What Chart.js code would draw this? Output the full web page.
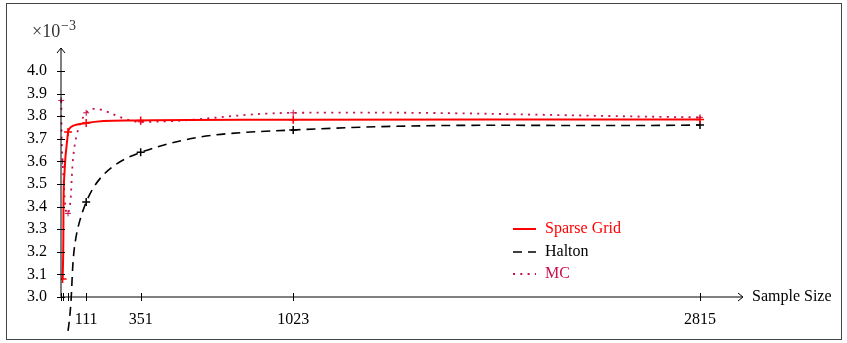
<!DOCTYPE html>
<html>
<head>
<meta charset="utf-8">
<script src="https://cdn.jsdelivr.net/npm/chart.js@4.4.1/dist/chart.umd.min.js"></script>
<style>
	html, body { margin: 0; padding: 0; background: #fff; }
	#caixa { width: 847px; height: 343px; }
</style>
</head>
<body>
<div id="caixa"><canvas id="graficoConvergencia"></canvas></div>
<script>
var sampleSizes = [1, 7, 31, 111, 351, 1023, 2815];
var sparseGrid = [null, 3.08, 3.73, 3.77, 3.781, 3.784, 3.786];
var halton = [null, null, 2.85, 3.42, 3.64, 3.739, 3.761];
var monteCarlo = [3.87, 3.60, 3.37, 3.815, 3.775, 3.815, 3.795];
var xTickLabels = ['', '', '', '111', '351', '1023', '2815'];
var yTicks = [3.0, 3.1, 3.2, 3.3, 3.4, 3.5, 3.6, 3.7, 3.8, 3.9, 4.0];

var FONTE = '"Liberation Serif", "DejaVu Serif", serif';
var corMC = '#c8104c';

function pontos(valores) {
	var lista = [];
	valores.forEach(function(v, i) {
		if (v !== null) lista.push({ x: sampleSizes[i], y: v });
	});
	return lista;
}

// frame, axes with arrows, ticks, exponent and legend
var moldura = {
	id: 'moldura',
	afterDraw: function(chart) {
		var ctx = chart.ctx;
		var area = chart.chartArea;
		var sx = chart.scales.x, sy = chart.scales.y;
		ctx.save();

		ctx.strokeStyle = '#444';
		ctx.lineWidth = 1;
		ctx.strokeRect(6.5, 3.5, 835, 336);

		ctx.strokeStyle = '#000';
		ctx.lineWidth = 1;
		ctx.beginPath();
		ctx.moveTo(area.left, area.bottom); ctx.lineTo(area.left, area.top - 2);
		ctx.moveTo(area.left - 4, area.top + 3); ctx.lineTo(area.left, area.top - 2); ctx.lineTo(area.left + 4, area.top + 3);
		ctx.moveTo(area.left, area.bottom); ctx.lineTo(area.right + 1, area.bottom);
		ctx.moveTo(area.right - 4, area.bottom - 4); ctx.lineTo(area.right + 1, area.bottom); ctx.lineTo(area.right - 4, area.bottom + 4);
		yTicks.forEach(function(v) {
			var py = Math.round(sy.getPixelForValue(v)) + 0.5;
			ctx.moveTo(area.left - 4, py); ctx.lineTo(area.left + 4, py);
		});
		sampleSizes.forEach(function(v) {
			var px = Math.round(sx.getPixelForValue(v)) + 0.5;
			ctx.moveTo(px, area.bottom - 4); ctx.lineTo(px, area.bottom + 4);
		});
		ctx.stroke();

		ctx.fillStyle = '#000';
		ctx.textBaseline = 'middle';
		ctx.textAlign = 'left';
		ctx.font = '16px ' + FONTE;
		ctx.fillText('Sample Size', 752, area.bottom);

		ctx.fillStyle = '#333';
		ctx.textBaseline = 'alphabetic';
		ctx.font = '18px ' + FONTE;
		ctx.fillText('\u00d710', 32, 37);
		ctx.font = '14px ' + FONTE;
		ctx.fillText('\u22123', 61, 30);

		// legend
		var linhaY = [229, 252, 274];
		chart.data.datasets.forEach(function(ds, i) {
			ctx.save();
			ctx.strokeStyle = ds.borderColor;
			ctx.lineWidth = ds.borderWidth;
			ctx.setLineDash(ds.borderDash || []);
			ctx.beginPath();
			ctx.moveTo(513, linhaY[i]);
			ctx.lineTo(536, linhaY[i]);
			ctx.stroke();
			ctx.restore();
			ctx.fillStyle = ds.borderColor;
			ctx.font = '16px ' + FONTE;
			ctx.textBaseline = 'middle';
			ctx.fillText(ds.label, 545, linhaY[i]);
		});
		ctx.restore();
	}
};

var grafico = new Chart(document.getElementById('graficoConvergencia').getContext('2d'), {
	type: 'line',
	data: {
		datasets: [{
			label: 'Sparse Grid',
			data: pontos(sparseGrid),
			borderColor: '#ff0000',
			borderWidth: 2,
			tension: 0.4,
			pointStyle: 'cross',
			pointRadius: 4,
			pointBorderWidth: 1.5,
			pointBorderColor: '#ff0000',
			fill: false
		}, {
			label: 'Halton',
			data: pontos(halton),
			borderColor: '#000000',
			borderWidth: 1.6,
			borderDash: [9, 6],
			tension: 0.4,
			pointStyle: 'cross',
			pointRadius: 4,
			pointBorderWidth: 1.5,
			pointBorderColor: '#000000',
			clip: false,
			fill: false
		}, {
			label: 'MC',
			data: pontos(monteCarlo),
			borderColor: corMC,
			borderWidth: 1.8,
			borderDash: [2, 5.3],
			tension: 0.4,
			pointStyle: 'cross',
			pointRadius: 3,
			pointBorderWidth: 1,
			pointBorderColor: corMC,
			clip: false,
			fill: false
		}]
	},
	options: {
		responsive: true,
		maintainAspectRatio: false,
		animation: false,
		devicePixelRatio: 1,
		layout: { padding: { top: 50, right: 105, bottom: 0, left: 0 } },
		plugins: {
			legend: { display: false },
			tooltip: { enabled: false }
		},
		scales: {
			x: {
				type: 'linear',
				min: 0,
				max: 3000,
				grid: { display: false },
				border: { display: false },
				afterBuildTicks: function(scale) {
					scale.ticks = sampleSizes.map(function(v) { return { value: v }; });
				},
				afterFit: function(scale) { scale.height = 46; },
				ticks: {
					autoSkip: false,
					maxRotation: 0,
					padding: 5,
					color: '#000',
					font: { family: FONTE, size: 16 },
					callback: function(v) {
						var i = sampleSizes.indexOf(v);
						return i < 0 ? '' : xTickLabels[i];
					}
				}
			},
			y: {
				type: 'linear',
				min: 3.0,
				max: 4.093,
				grid: { display: false },
				border: { display: false },
				afterBuildTicks: function(scale) {
					scale.ticks = yTicks.map(function(v) { return { value: v }; });
				},
				afterFit: function(scale) { scale.width = 61; },
				ticks: {
					padding: 6,
					color: '#000',
					font: { family: FONTE, size: 16 },
					callback: function(v) { return v.toFixed(1); }
				}
			}
		}
	},
	plugins: [moldura]
});
</script>
</body>
</html>
